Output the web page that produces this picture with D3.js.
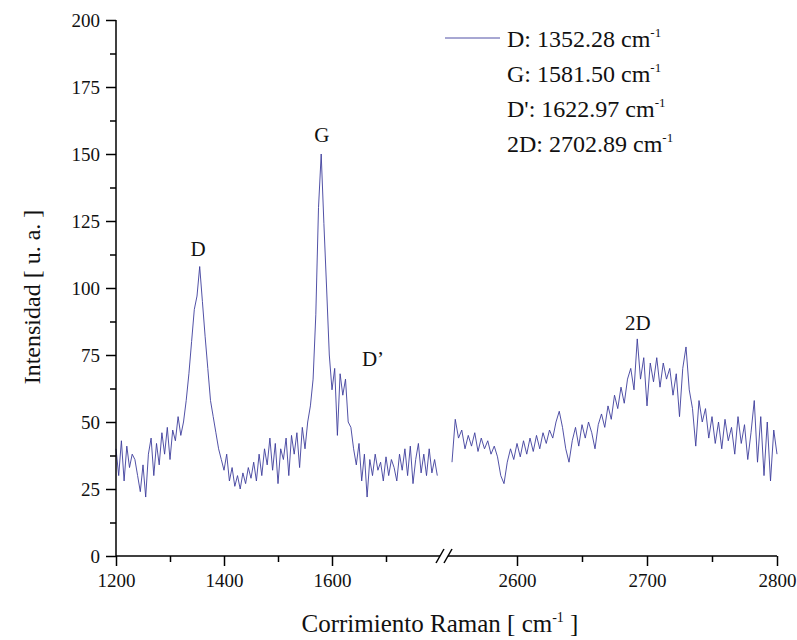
<!DOCTYPE html>
<html>
<head>
<meta charset="utf-8">
<script src="https://cdn.jsdelivr.net/npm/d3@7"></script>
<style>
  body { margin: 0; background: #fff; }
  svg text { font-family: "Liberation Serif", "Times New Roman", Times, serif !important; fill: #111; }
</style>
</head>
<body>
<svg id="chart"></svg>
<script>
// Spectrum, low range (1200 - 1795 cm-1, step 5)
const lowStart = 1200, lowStep = 5;
const lowValues = [
  40, 30, 43, 28, 41, 33, 38, 36, 30, 24, 34, 22, 38, 44, 30, 42, 34, 46, 38, 48,
  36, 47, 43, 52, 45, 50, 58, 68, 80, 92, 97, 108, 95, 82, 70, 58, 52, 46, 40, 36,
  32, 38, 28, 33, 26, 30, 25, 31, 27, 33, 29, 35, 28, 38, 30, 40, 34, 44, 32, 42,
  27, 40, 36, 44, 30, 45, 38, 46, 33, 48, 40, 50, 56, 66, 90, 130, 150, 124, 100, 75,
  62, 70, 45, 68, 60, 66, 50, 48, 40, 34, 42, 28, 38, 22, 36, 30, 38, 32, 35, 28,
  37, 30, 36, 33, 28, 38, 32, 40, 30, 41, 27, 36, 42, 31, 38, 30, 40, 31, 36, 30
];

// Spectrum, high range (2550 - 2800 cm-1, step 2.5)
const highStart = 2550, highStep = 2.5;
const highValues = [
  35, 51, 44, 47, 40, 45, 41, 46, 39, 44, 40, 43, 38, 41, 37, 30, 27, 35, 40, 36,
  42, 37, 43, 38, 44, 39, 45, 40, 46, 42, 47, 44, 50, 54, 48, 40, 35, 43, 48, 41,
  49, 44, 50, 46, 40, 49, 53, 48, 56, 51, 60, 55, 63, 57, 66, 70, 62, 81, 66, 74,
  56, 72, 65, 74, 63, 72, 66, 70, 60, 68, 52, 70, 78, 62, 55, 41, 58, 50, 55, 44,
  52, 42, 50, 40, 51, 43, 48, 38, 52, 42, 49, 36, 46, 58, 35, 52, 30, 50, 28, 47,
  38
];

// Axis ticks
const lowMajor = [1200, 1400, 1600];
const lowMinor = [1300, 1500, 1700];
const highMajor = [2600, 2700, 2800];
const highMinor = [2650, 2750];
const yMajor = [0, 25, 50, 75, 100, 125, 150, 175, 200];
const yMinor = [12.5, 37.5, 62.5, 87.5, 112.5, 137.5, 162.5, 187.5];

// Peak labels
const peakNames = ['D', 'G', 'D\u2019', '2D'];
const peakX = [1352, 1581, 1676, 2693];
const peakY = [112, 154.5, 71, 84.3];

// Legend rows
const legendLabels = ['D: 1352.28 cm', 'G: 1581.50 cm', "D': 1622.97 cm", '2D: 2702.89 cm'];

const lowData = lowValues.map((v, i) => ({ x: lowStart + i * lowStep, y: v }));
const highData = highValues.map((v, i) => ({ x: highStart + i * highStep, y: v }));

const W = 797, H = 640;
const margin = { top: 20, right: 20, bottom: 84, left: 116 };
const width = W - margin.left - margin.right;
const height = H - margin.top - margin.bottom;

const svg = d3.select('#chart')
  .attr('width', W)
  .attr('height', H)
  .append('g')
  .attr('transform', `translate(${margin.left},${margin.top})`);

// broken x axis: two linear pieces
const xLow = d3.scaleLinear().domain([1200, 1800]).range([0, 324]);
const xHigh = d3.scaleLinear().domain([2550, 2800]).range([336, width]);
const xOf = v => v <= 2000 ? xLow(v) : xHigh(v);

const yScale = d3.scaleLinear().domain([0, 200]).range([height, 0]);

const lineColor = '#3d3d9c';

const line = d3.line().x(d => xOf(d.x)).y(d => yScale(d.y));

[lowData, highData].forEach(seg => {
  svg.append('path')
    .datum(seg)
    .attr('fill', 'none')
    .attr('stroke', lineColor)
    .attr('stroke-width', 0.9)
    .attr('stroke-linejoin', 'round')
    .attr('d', line);
});

// y axis
svg.append('g')
  .call(d3.axisLeft(yScale).tickValues(yMajor).tickSize(10).tickPadding(6).tickFormat(d3.format('d')))
  .call(g => g.select('.domain').remove());
svg.append('g')
  .call(d3.axisLeft(yScale).tickValues(yMinor).tickSize(6).tickFormat(''))
  .call(g => g.select('.domain').remove());
svg.append('line')
  .attr('x1', 0).attr('x2', 0).attr('y1', 0).attr('y2', height)
  .attr('stroke', '#000').attr('stroke-width', 1.5);

// x axis pieces
function xPiece(scale, major, minor) {
  svg.append('g')
    .attr('transform', `translate(0,${height})`)
    .call(d3.axisBottom(scale).tickValues(major).tickSize(10).tickPadding(8).tickFormat(d3.format('d')))
    .call(g => g.select('.domain').remove());
  svg.append('g')
    .attr('transform', `translate(0,${height})`)
    .call(d3.axisBottom(scale).tickValues(minor).tickSize(6).tickFormat(''))
    .call(g => g.select('.domain').remove());
}
xPiece(xLow, lowMajor, lowMinor);
xPiece(xHigh, highMajor, highMinor);

const brk1 = 324, brk2 = 332;
svg.append('line')
  .attr('x1', 0).attr('x2', brk1).attr('y1', height).attr('y2', height)
  .attr('stroke', '#000').attr('stroke-width', 1.5);
svg.append('line')
  .attr('x1', brk2).attr('x2', width).attr('y1', height).attr('y2', height)
  .attr('stroke', '#000').attr('stroke-width', 1.5);
[brk1, brk2].forEach(bx => {
  svg.append('line')
    .attr('x1', bx - 4).attr('y1', height + 7)
    .attr('x2', bx + 4).attr('y2', height - 7)
    .attr('stroke', '#000').attr('stroke-width', 1.5);
});

svg.selectAll('.tick line').attr('stroke', '#000').attr('stroke-width', 1.5);
svg.selectAll('.tick text')
  .style('font-size', '19px')
  .attr('fill', '#111');

// axis titles
const xt = svg.append('text')
  .attr('x', 324)
  .attr('y', height + 76)
  .attr('text-anchor', 'middle')
  .style('font-size', '25px');
xt.append('tspan').text('Corrimiento Raman [ cm');
xt.append('tspan').attr('dy', -10).style('font-size', '14px').text('-1');
xt.append('tspan').attr('dy', 10).text(' ]');

svg.append('text')
  .attr('transform', 'rotate(-90)')
  .attr('x', -277)
  .attr('y', -76)
  .attr('text-anchor', 'middle')
  .style('font-size', '24px')
  .text('Intensidad [ u. a. ]');

// peak labels
svg.selectAll('.peak')
  .data(peakNames)
  .enter()
  .append('text')
  .attr('class', 'peak')
  .attr('x', (d, i) => xOf(peakX[i]))
  .attr('y', (d, i) => yScale(peakY[i]))
  .attr('text-anchor', 'middle')
  .style('font-size', '21px')
  .text(d => d);

// legend
const legend = svg.append('g').attr('transform', 'translate(329,18)');
legend.append('line')
  .attr('x1', 0).attr('x2', 55).attr('y1', 0).attr('y2', 0)
  .attr('stroke', lineColor).attr('stroke-width', 0.9);
legendLabels.forEach((t, i) => {
  const tx = legend.append('text')
    .attr('x', 62)
    .attr('y', 9 + i * 35)
    .style('font-size', '24px');
  tx.append('tspan').text(t);
  tx.append('tspan').attr('dy', -10).style('font-size', '13px').text('-1');
});
</script>
</body>
</html>
